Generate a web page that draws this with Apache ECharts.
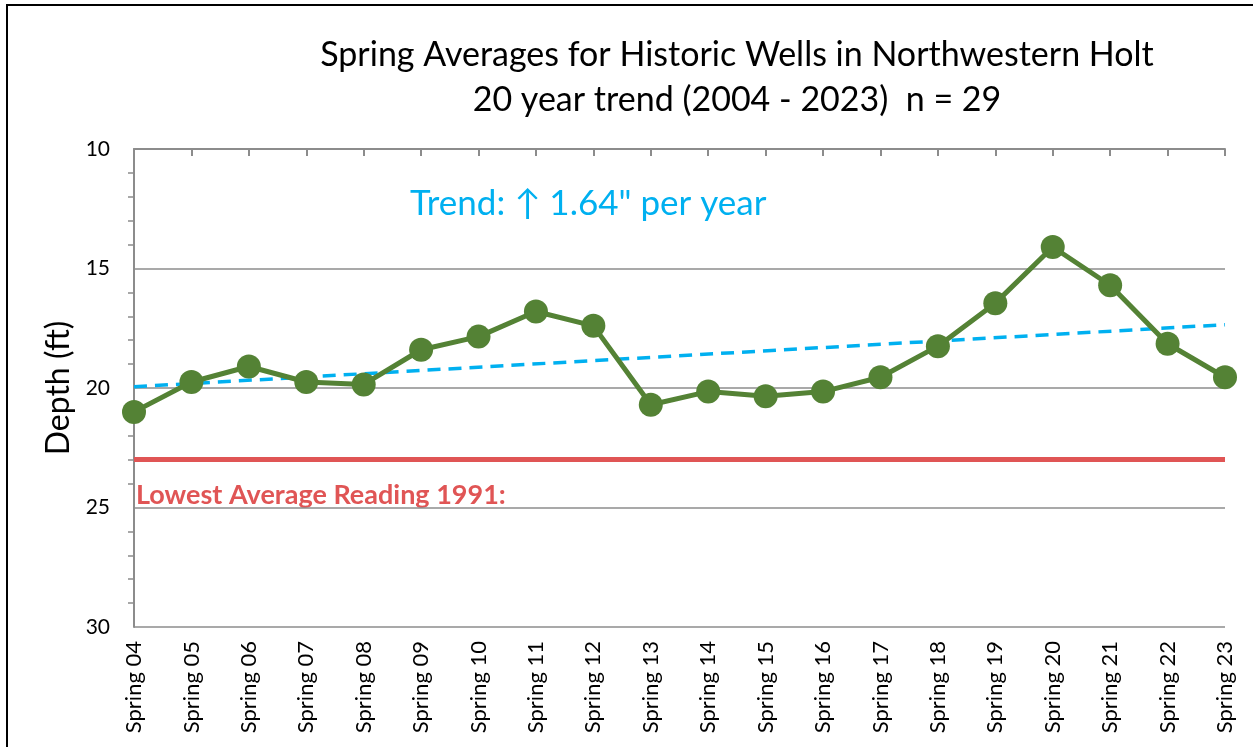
<!DOCTYPE html>
<html>
<head>
<meta charset="utf-8">
<script src="https://cdn.jsdelivr.net/npm/echarts@6/dist/echarts.min.js"></script>
<style>
  html, body { margin: 0; padding: 0; background: #fff; }
  #chart { width: 1253px; height: 747px; }
</style>
</head>
<body>
<div id="chart"></div>
<script>
// data
const seasons = ['Spring 04', 'Spring 05', 'Spring 06', 'Spring 07', 'Spring 08', 'Spring 09', 'Spring 10',
  'Spring 11', 'Spring 12', 'Spring 13', 'Spring 14', 'Spring 15', 'Spring 16', 'Spring 17', 'Spring 18',
  'Spring 19', 'Spring 20', 'Spring 21', 'Spring 22', 'Spring 23']
const depths = [21.0, 19.75, 19.1, 19.75, 19.85, 18.4, 17.85, 16.8, 17.4, 20.7, 20.15, 20.35, 20.15,
  19.55, 18.25, 16.45, 14.1, 15.7, 18.15, 19.55]
const trendEnds = [['Spring 04', 19.95], ['Spring 23', 17.35]]
const lowestReading = 23.0
const yTicks = { min: 10, max: 30, step: 5 }

const font = 'Lato, "Open Sans", sans-serif'
const gridGray = '#8c8c8c'

const chart = echarts.init(document.getElementById('chart'))

chart.setOption({
  animation: false,
  textStyle: { fontFamily: font },
  grid: { left: 134, right: 28, top: 149, bottom: 120 },
  graphic: [
    // outer frame
    { type: 'rect', shape: { x: 7, y: 5, width: 1400, height: 900 }, style: { fill: 'none', stroke: '#000', lineWidth: 2 } },
    {
      type: 'text', x: 737, y: 55,
      style: { text: 'Spring Averages for Historic Wells in Northwestern Holt', font: '34px ' + font, fill: '#000', align: 'center', verticalAlign: 'middle' }
    },
    {
      type: 'text', x: 737, y: 100,
      style: { text: '20 year trend (2004 - 2023)  n = 29', font: '34px ' + font, fill: '#000', align: 'center', verticalAlign: 'middle' }
    },
    {
      type: 'text', x: 410, y: 204,
      style: { text: 'Trend: \u2191 1.64" per year', font: '35px ' + font, fill: '#00B0F0', verticalAlign: 'middle' }
    },
    {
      type: 'text', x: 136, y: 495,
      style: { text: 'Lowest Average Reading 1991:', font: 'bold 27px ' + font, fill: '#E05555', verticalAlign: 'middle' }
    }
  ],
  xAxis: [
    {
      type: 'category',
      data: seasons,
      boundaryGap: false,
      position: 'bottom',
      axisLine: { show: false },
      axisTick: { show: false },
      axisLabel: { rotate: 90, fontSize: 22, color: '#000', margin: 14, interval: 0 }
    },
    {
      type: 'category',
      data: seasons,
      boundaryGap: false,
      position: 'top',
      axisLine: { show: true, lineStyle: { color: gridGray, width: 2 } },
      axisTick: { show: true, inside: true, length: 7, interval: 0, lineStyle: { color: gridGray, width: 2 } },
      axisLabel: { show: false }
    }
  ],
  yAxis: {
    type: 'value',
    inverse: true,
    min: yTicks.min,
    max: yTicks.max,
    interval: yTicks.step,
    name: 'Depth (ft)',
    nameLocation: 'middle',
    nameGap: 56,
    nameTextStyle: { fontSize: 32, color: '#000' },
    axisLine: { show: true, lineStyle: { color: gridGray, width: 2 } },
    axisTick: { show: false },
    minorTick: { show: true, splitNumber: 5, length: 6, lineStyle: { color: gridGray, width: 1.5 } },
    axisLabel: { fontSize: 21, color: '#000', margin: 24 },
    splitLine: { show: true, lineStyle: { color: gridGray, width: 1.5 } }
  },
  series: [
    {
      name: 'Lowest',
      type: 'line',
      data: [],
      markLine: {
        silent: true,
        symbol: 'none',
        label: { show: false },
        lineStyle: { color: '#E05555', width: 5, type: 'solid' },
        data: [{ yAxis: lowestReading }]
      }
    },
    {
      name: 'Trend',
      type: 'line',
      data: trendEnds,
      showSymbol: false,
      lineStyle: { color: '#00B0F0', width: 3.5, type: [13, 8] },
      z: 3
    },
    {
      name: 'Spring average',
      type: 'line',
      data: depths,
      symbol: 'circle',
      symbolSize: 24,
      lineStyle: { color: '#548235', width: 5 },
      itemStyle: { color: '#548235' },
      z: 4
    }
  ]
})
</script>
</body>
</html>
